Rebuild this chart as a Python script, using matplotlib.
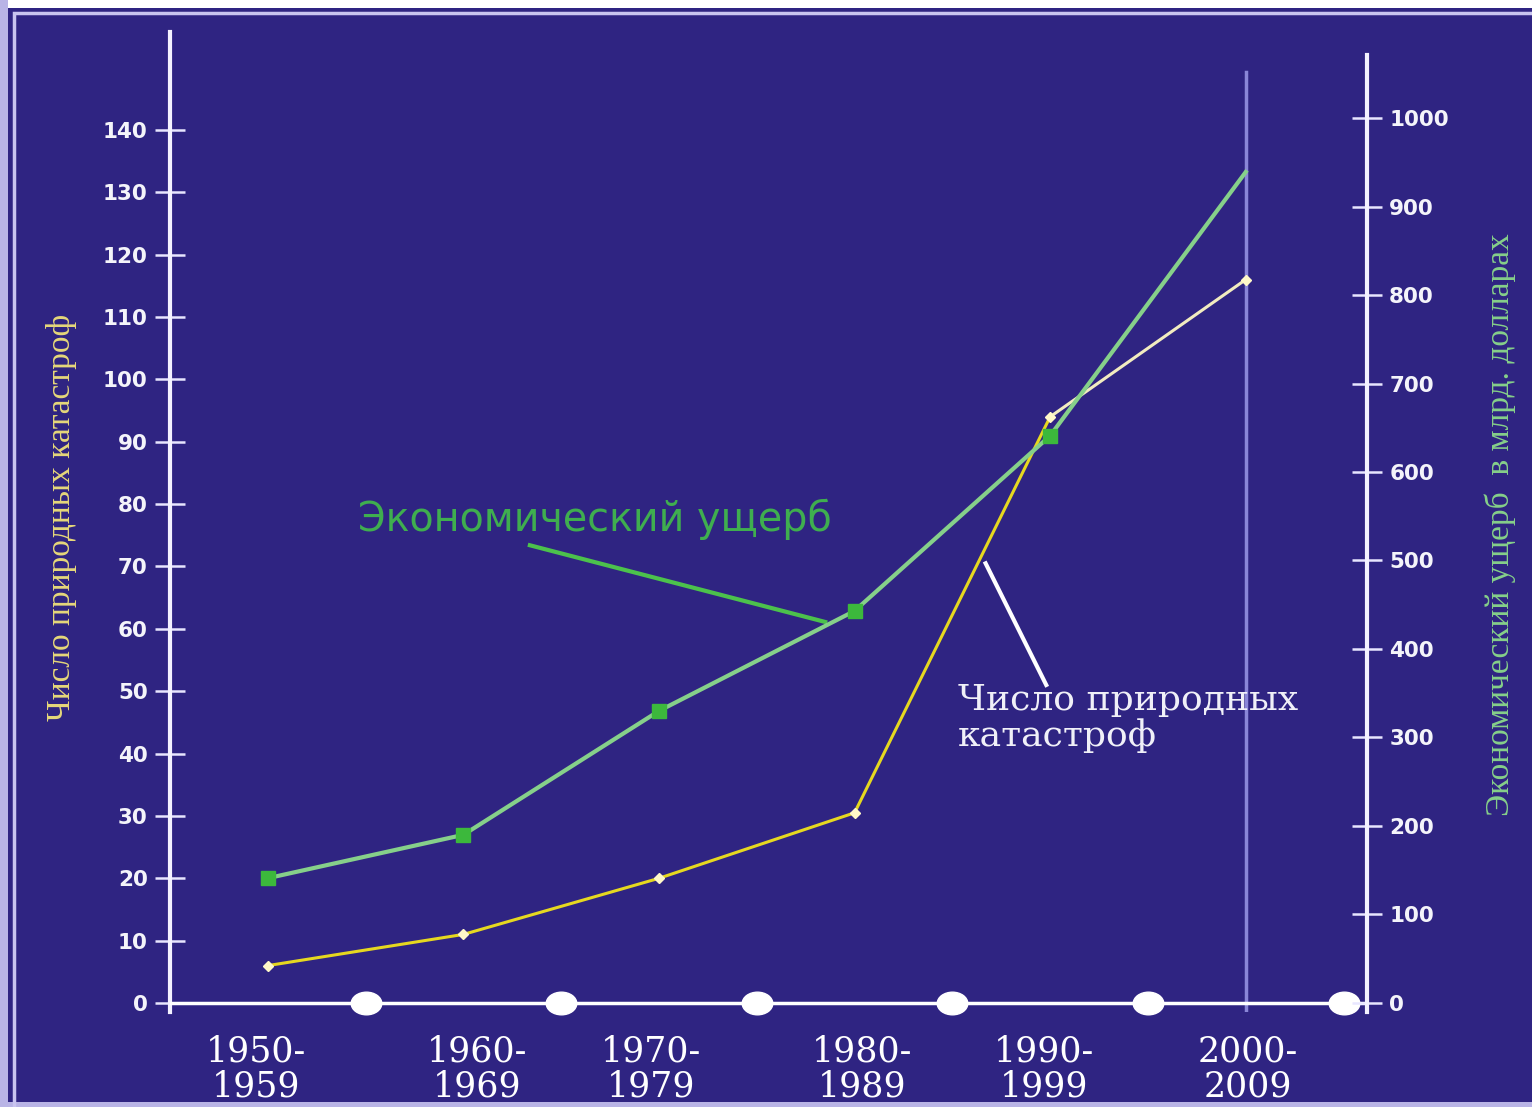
import matplotlib
matplotlib.use("Agg")
import matplotlib.pyplot as plt
import matplotlib.path as mpath
from matplotlib.transforms import Affine2D
from matplotlib.patches import Rectangle
import numpy as np

# десятилетия
decades = ["1950-\n1959", "1960-\n1969", "1970-\n1979", "1980-\n1989", "1990-\n1999", "2000-\n2009"]
# число природных катастроф (левая ось)
disasters = [6, 11, 20, 30.5, 94, 116]
# экономический ущерб, млрд долларов (правая ось)
damage = [141, 190, 330, 443, 641, 939]

left_ticks = list(range(0, 150, 10))
right_ticks = list(range(0, 1100, 100))

# небольшие сдвиги подписей десятилетий по горизонтали
label_shift = [-0.06, 0.07, -0.04, 0.04, -0.03, 0.01]

bg = "#2f2482"
serif = ["Liberation Serif", "DejaVu Serif"]
wide_serif = ["DejaVu Serif"]
sans = ["DejaVu Sans"]

fig = plt.figure(figsize=(15.32, 11.07), dpi=100)
fig.patch.set_facecolor(bg)

# рамка слайда
fig.patches.append(Rectangle((0, 1 - 8 / 1107), 1, 8 / 1107, transform=fig.transFigure,
                             facecolor="white", edgecolor="none"))
fig.patches.append(Rectangle((0, 0), 8 / 1532, 1, transform=fig.transFigure,
                             facecolor="#b9b4e6", edgecolor="none"))
fig.patches.append(Rectangle((0, 0), 1, 5 / 1107, transform=fig.transFigure,
                             facecolor="#b9b4e6", edgecolor="none"))
fig.patches.append(Rectangle((14 / 1532, -0.01), 1.02, 1 - 13 / 1107 + 0.01, transform=fig.transFigure,
                             facecolor="none", edgecolor="#c9c4f0", linewidth=2.5))

ax = fig.add_axes([170 / 1532, 1 - 1012 / 1107, 1197 / 1532, 980 / 1107])
ax.set_facecolor(bg)
ax2 = ax.twinx()

x = np.arange(len(decades))
ax.set_xlim(-0.5, 5.62)
ax.set_ylim(-1.44, 155.7)
ax2.set_ylim(-10.2, 1097.2)

for a in (ax, ax2):
    for s in a.spines.values():
        s.set_visible(False)

ax.spines["left"].set_visible(True)
ax.spines["left"].set_color("#f4f2ff")
ax.spines["left"].set_linewidth(3)
ax2.spines["right"].set_visible(True)
ax2.spines["right"].set_color("#f4f2ff")
ax2.spines["right"].set_linewidth(3)
ax2.spines["right"].set_bounds(-10.2, 1071)

ax.set_yticks(left_ticks)
ax2.set_yticks(right_ticks)
ax.tick_params(axis="y", direction="inout", length=22, width=1.8, color="#e8e6ff",
               labelcolor="#f4f4fa", labelsize=15.5, pad=5)
ax2.tick_params(axis="y", direction="inout", length=22, width=1.8, color="#e8e6ff",
                labelcolor="#f4f4fa", labelsize=15.5, pad=5)
for lab in ax.get_yticklabels() + ax2.get_yticklabels():
    lab.set_fontfamily(sans)
    lab.set_fontweight("bold")

ax.set_xticks(x)
ax.set_xticklabels([])
ax.tick_params(axis="x", length=0)

# подписи десятилетий
for i, lab in enumerate(decades):
    ax.text(i + label_shift[i], -5.0, lab, ha="center", va="top", fontsize=25, color="white",
            family=wide_serif, linespacing=1.05)

# горизонтальная ось с кружками
ax.axhline(0, color="white", lw=2.5, zorder=3)
ell = mpath.Path.unit_circle().transformed(Affine2D().scale(1.35, 1.0))
ax.plot(x + 0.5, np.zeros(len(x)), linestyle="none", marker=ell, markersize=22,
        color="white", zorder=4, clip_on=False)

# вертикальная линия у 2000-2009
ax.plot([5, 5], [-1.3, 149.3], color="#8a86d8", lw=2.5, zorder=2)

# число катастроф
ax.plot(x[:5], disasters[:5], color="#e6d820", lw=2.2, zorder=5)
ax.plot(x[4:], disasters[4:], color="#f2ecc0", lw=2.2, zorder=5)
ax.plot(x, disasters, linestyle="none", marker="D", markersize=5,
        markerfacecolor="#fff8c8", markeredgecolor="#fff8c8", zorder=6)

# экономический ущерб
ax2.plot(x, damage, color="#86d08a", lw=3, zorder=5)
ax2.plot(x[:5], damage[:5], linestyle="none", marker="s", markersize=10,
         color="#3cb83c", zorder=6)

# выноски
ax.text(1.67, 77.5, "Экономический ущерб", fontsize=28.5, color="#3fae4f",
        family=sans, ha="center", va="center")
ax.plot([1.34, 2.85], [73.4, 61.1], color="#4cc24c", lw=3)

ax.text(3.53, 45.7, "Число природных\nкатастроф", fontsize=26, color="#f0f0f8",
        family=wide_serif, ha="left", va="center", linespacing=1.05)
ax.plot([3.67, 3.98], [70.5, 51], color="white", lw=3)

# подписи осей
fig.text(62 / 1532, 1 - 517 / 1107, "Число природных катастроф", rotation=90,
         fontsize=24, color="#e6d87a", family=serif, ha="center", va="center")
fig.text(1500 / 1532, 1 - 525 / 1107, "Экономический ущерб  в млрд. долларах", rotation=90,
         fontsize=24, color="#86d08a", family=serif, ha="center", va="center")

fig.savefig("out.png", dpi=100, facecolor=fig.get_facecolor())
